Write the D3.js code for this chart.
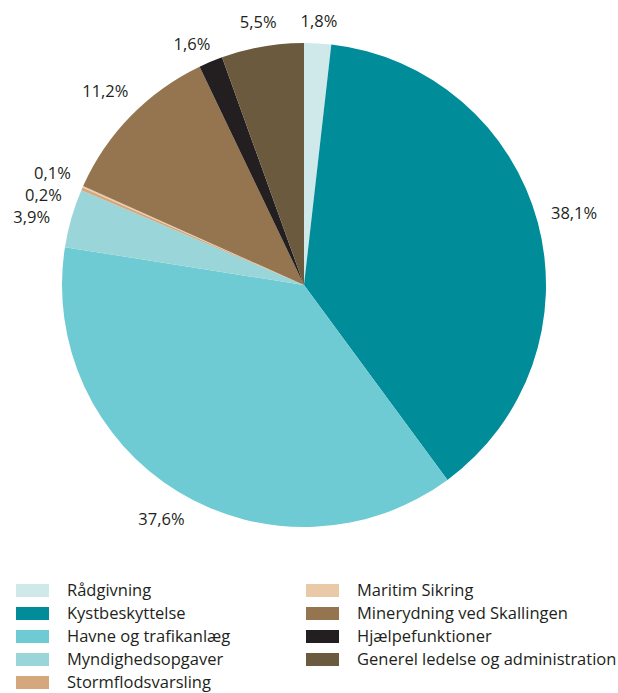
<!DOCTYPE html>
<html>
<head>
<meta charset="utf-8">
<script src="https://cdn.jsdelivr.net/npm/d3@7"></script>
<style>
  body { margin: 0; background: #fff; }
  text { font-family: "Open Sans", sans-serif; fill: #231f20; }
</style>
</head>
<body>
<div id="chart"></div>
<script>
// Data
const categories = [
  "Rådgivning",
  "Kystbeskyttelse",
  "Havne og trafikanlæg",
  "Myndighedsopgaver",
  "Stormflodsvarsling",
  "Maritim Sikring",
  "Minerydning ved Skallingen",
  "Hjælpefunktioner",
  "Generel ledelse og administration"
];
const shares = [1.8, 38.1, 37.6, 3.9, 0.2, 0.1, 11.2, 1.6, 5.5];
const colors = [
  "#cfe9ea", "#008c99", "#6ecbd3", "#9ad6d9", "#d4a77c",
  "#e9c9a8", "#94754f", "#231f20", "#6b5a3e"
];

const width = 618, height = 693;
const cx = 304, cy = 285, radius = 242;

const svg = d3.select("#chart").append("svg")
  .attr("width", width)
  .attr("height", height);

const data = categories.map((c, i) => ({ name: c, value: shares[i], color: colors[i] }));

const pie = d3.pie().sort(null).value(d => d.value);
const arc = d3.arc().innerRadius(0).outerRadius(radius);
const arcs = pie(data);

const g = svg.append("g").attr("transform", `translate(${cx},${cy})`);

g.selectAll("path.slice")
  .data(arcs)
  .enter()
  .append("path")
  .attr("class", "slice")
  .attr("d", arc)
  .attr("fill", d => d.data.color);

// Labels outside the pie, distance depends on text box size
const fmt = v => d3.format(".1f")(v).replace(".", ",") + "%";
const labels = g.selectAll("text.lbl")
  .data(arcs)
  .enter()
  .append("text")
  .attr("class", "lbl")
  .attr("text-anchor", "middle")
  .attr("dy", "0.35em")
  .style("font-size", "16.5px")
  .text(d => fmt(d.data.value));

const gap = 13;
const pos = [];
labels.each(function (d) {
  const bb = this.getBBox();
  const a = (d.startAngle + d.endAngle) / 2;
  const s = Math.sin(a), c = Math.cos(a);
  const r = radius + gap + (bb.width / 2) * Math.abs(s) + (bb.height / 2 - 3) * Math.abs(c);
  pos.push({ node: this, x: r * s, y: -r * c, h: bb.height, left: s < 0 });
});

// simple de-overlap on the left side: push lower labels down
const leftSide = pos.filter(p => p.left).sort((a, b) => a.y - b.y);
for (let i = 1; i < leftSide.length; i++) {
  const minGap = leftSide[i - 1].h - 1;
  if (leftSide[i].y - leftSide[i - 1].y < minGap) {
    leftSide[i].y = leftSide[i - 1].y + minGap;
    leftSide[i].x -= 8;
  }
}
pos.forEach(p => d3.select(p.node).attr("x", p.x).attr("y", p.y));

// Legend
const colStarts = [0, 5];
const colX = [16, 306];
const rowStep = 23;
const legend = svg.append("g").attr("class", "legend");
data.forEach((d, i) => {
  const col = i < colStarts[1] ? 0 : 1;
  const row = i - colStarts[col];
  const y = 584 + row * rowStep;
  const item = legend.append("g").attr("transform", `translate(${colX[col]},${y})`);
  item.append("rect")
    .attr("width", 33)
    .attr("height", 13)
    .attr("fill", d.color);
  item.append("text")
    .attr("x", 51)
    .attr("y", 6.5)
    .attr("dy", "0.33em")
    .style("font-size", "16.5px")
    .text(d.name);
});
</script>
</body>
</html>
